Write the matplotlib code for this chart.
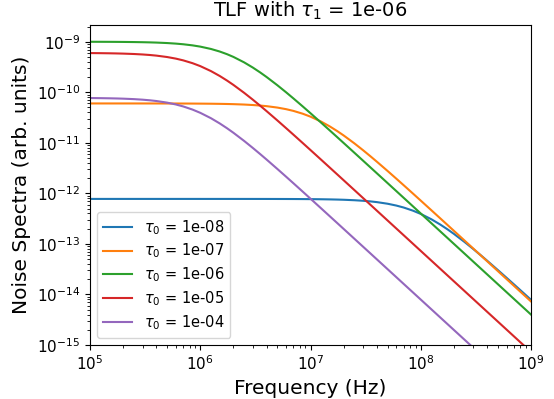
import matplotlib
matplotlib.use("Agg")
import matplotlib.pyplot as plt

freq = [
    1e5, 1.25e5, 1.5e5, 1.75e5, 2e5, 2.5e5, 3e5, 3.5e5, 4e5, 5e5, 6e5, 7e5, 8.5e5,
    1e6, 1.25e6, 1.5e6, 1.75e6, 2e6, 2.5e6, 3e6, 3.5e6, 4e6, 5e6, 6e6, 7e6, 8.5e6,
    1e7, 1.25e7, 1.5e7, 1.75e7, 2e7, 2.5e7, 3e7, 3.5e7, 4e7, 5e7, 6e7, 7e7, 8.5e7,
    1e8, 1.25e8, 1.5e8, 1.75e8, 2e8, 2.5e8, 3e8, 3.5e8, 4e8, 5e8, 6e8, 7e8, 8.5e8,
    1e9,
]

tau0_labels = ["1e-08", "1e-07", "1e-06", "1e-05", "1e-04"]

spec_1e08 = [
    7.765e-13, 7.765e-13, 7.765e-13, 7.765e-13, 7.765e-13, 7.765e-13, 7.765e-13,
    7.765e-13, 7.765e-13, 7.765e-13, 7.765e-13, 7.765e-13, 7.765e-13,
    7.764e-13, 7.764e-13, 7.763e-13, 7.763e-13, 7.762e-13, 7.760e-13, 7.758e-13,
    7.756e-13, 7.753e-13, 7.746e-13, 7.738e-13, 7.728e-13, 7.710e-13,
    7.690e-13, 7.648e-13, 7.597e-13, 7.539e-13, 7.472e-13, 7.317e-13, 7.135e-13,
    6.932e-13, 6.712e-13, 6.237e-13, 5.739e-13, 5.245e-13, 4.546e-13,
    3.921e-13, 3.067e-13, 2.422e-13, 1.9402e-13, 1.578e-13, 1.0895e-13, 7.905e-14,
    5.969e-14, 4.654e-14, 3.044e-14, 2.1397e-14, 1.584e-14, 1.0811e-14,
    7.841e-15,
]
spec_1e07 = [
    6.010e-11, 6.0097e-11, 6.009e-11, 6.009e-11, 6.0085e-11, 6.0074e-11, 6.006e-11,
    6.0044e-11, 6.0026e-11, 5.998e-11, 5.9927e-11, 5.986e-11, 5.9748e-11,
    5.961e-11, 5.934e-11, 5.901e-11, 5.862e-11, 5.818e-11, 5.7153e-11, 5.594e-11,
    5.458e-11, 5.309e-11, 4.981e-11, 4.6323e-11, 4.278e-11, 3.7634e-11,
    3.291e-11, 2.6232e-11, 2.102e-11, 1.7022e-11, 1.396e-11, 9.749e-12, 7.123e-12,
    5.4032e-12, 4.226e-12, 2.775e-12, 1.9545e-12, 1.4485e-12, 9.900e-13,
    7.186e-13, 4.6188e-13, 3.215e-13, 2.3654e-13, 1.8127e-13, 1.1614e-13, 8.070e-14,
    5.931e-14, 4.542e-14, 2.9077e-14, 2.0195e-14, 1.4839e-14, 1.0064e-14,
    7.272e-15,
]
spec_1e06 = [
    9.975e-10, 9.961e-10, 9.944e-10, 9.924e-10, 9.901e-10, 9.846e-10, 9.780e-10,
    9.703e-10, 9.615e-10, 9.412e-10, 9.174e-10, 8.909e-10, 8.470e-10,
    8.0e-10, 7.191e-10, 6.4e-10, 5.664e-10, 5.0e-10, 3.902e-10, 3.077e-10,
    2.4615e-10, 2.0e-10, 1.379e-10, 1.0e-10, 7.547e-11, 5.246e-11,
    3.846e-11, 2.4961e-11, 1.7467e-11, 1.2893e-11, 9.901e-12, 6.3593e-12, 4.425e-12,
    3.2547e-12, 2.494e-12, 1.5974e-12, 1.1099e-12, 8.157e-13, 5.5333e-13,
    3.9984e-13, 2.5594e-13, 1.7775e-13, 1.3061e-13, 9.999e-14, 6.3996e-14, 4.444e-14,
    3.2652e-14, 2.5e-14, 1.6e-14, 1.1111e-14, 8.163e-15, 5.5363e-15,
    4.0e-15,
]
spec_1e05 = [
    5.961e-10, 5.934e-10, 5.901e-10, 5.862e-10, 5.818e-10, 5.7153e-10, 5.594e-10,
    5.458e-10, 5.309e-10, 4.981e-10, 4.6323e-10, 4.278e-10, 3.7634e-10,
    3.291e-10, 2.6232e-10, 2.102e-10, 1.7022e-10, 1.396e-10, 9.749e-11, 7.123e-11,
    5.4032e-11, 4.226e-11, 2.775e-11, 1.9545e-11, 1.4485e-11, 9.900e-12,
    7.186e-12, 4.6188e-12, 3.215e-12, 2.3654e-12, 1.8127e-12, 1.1614e-12, 8.070e-13,
    5.931e-13, 4.542e-13, 2.9077e-13, 2.0195e-13, 1.4839e-13, 1.0064e-13,
    7.272e-14, 4.6542e-14, 3.2321e-14, 2.3747e-14, 1.8182e-14, 1.1636e-14, 8.081e-15,
    5.9369e-15, 4.545e-15, 2.909e-15, 2.0202e-15, 1.4842e-15, 1.0066e-15,
    7.273e-16,
]
spec_1e04 = [
    7.690e-11, 7.648e-11, 7.597e-11, 7.539e-11, 7.472e-11, 7.317e-11, 7.135e-11,
    6.932e-11, 6.712e-11, 6.237e-11, 5.739e-11, 5.245e-11, 4.546e-11,
    3.921e-11, 3.067e-11, 2.422e-11, 1.9402e-11, 1.578e-11, 1.0895e-11, 7.905e-12,
    5.969e-12, 4.654e-12, 3.044e-12, 2.1397e-12, 1.584e-12, 1.0811e-12,
    7.841e-13, 5.0367e-13, 3.5046e-13, 2.5779e-13, 1.9752e-13, 1.2653e-13, 8.791e-14,
    6.461e-14, 4.9475e-14, 3.1671e-14, 2.1997e-14, 1.6162e-14, 1.0962e-14,
    7.920e-15, 5.069e-15, 3.5204e-15, 2.5864e-15, 1.9802e-15, 1.2674e-15, 8.801e-16,
    6.466e-16, 4.951e-16, 3.168e-16, 2.2003e-16, 1.6165e-16, 1.0963e-16,
    7.921e-17,
]

series = [spec_1e08, spec_1e07, spec_1e06, spec_1e05, spec_1e04]

fig = plt.figure(figsize=(5.54, 3.99), dpi=100)
ax = fig.add_subplot(111)
fig.subplots_adjust(left=0.1625, right=0.9585, top=0.9373, bottom=0.1353)

for lab, vals in zip(tau0_labels, series):
    ax.loglog(freq, vals, label=r"$\tau_0$ = " + lab)

ax.set_xlim(1e5, 1e9)
ax.set_ylim(1e-15, 2.14e-9)
ax.set_xlabel("Frequency (Hz)", fontsize=14.5)
ax.set_ylabel("Noise Spectra (arb. units)", fontsize=14.5)
ax.set_title(r"TLF with $\tau_1$ = 1e-06", fontsize=14)
ax.tick_params(labelsize=11)
ax.legend(loc="lower left", fontsize=10.5, labelspacing=0.35)

fig.savefig("out.png", dpi=100)
